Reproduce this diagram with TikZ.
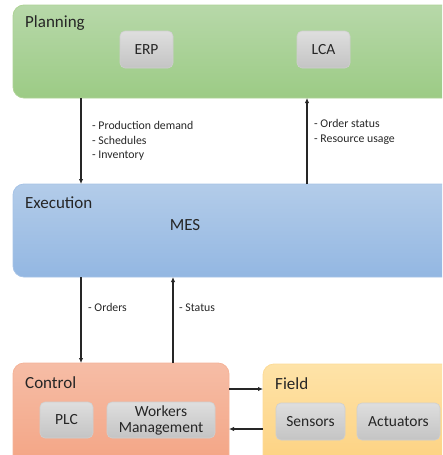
\documentclass[tikz,border=0pt]{standalone}
\usepackage{fontspec}
\setmainfont{Carlito}
\usetikzlibrary{arrows.meta}
\definecolor{txt}{HTML}{262626}
\definecolor{planT}{HTML}{B7D8A9}
\definecolor{planB}{HTML}{9CCB85}
\definecolor{planE}{HTML}{AED396}
\definecolor{execT}{HTML}{B3CCE9}
\definecolor{execB}{HTML}{93B7E2}
\definecolor{execE}{HTML}{A6C3E6}
\definecolor{ctrlT}{HTML}{F6BDA6}
\definecolor{ctrlB}{HTML}{F3A281}
\definecolor{ctrlE}{HTML}{F5B398}
\definecolor{fldT}{HTML}{FEE3A8}
\definecolor{fldB}{HTML}{FDD07D}
\definecolor{fldE}{HTML}{FDDB97}
\definecolor{boxT}{HTML}{DEDEDE}
\definecolor{boxB}{HTML}{C4C4C4}
\definecolor{boxE}{HTML}{CFCFCF}
\tikzset{
  layer/.style={rounded corners=11pt, line width=0.8pt},
  title/.style={anchor=west, font=\fontsize{17}{19}\selectfont, text=txt, inner sep=0pt},
  unit/.style={rounded corners=5pt, draw=boxE, line width=0.6pt,
    top color=boxT, bottom color=boxB, font=\fontsize{15.5}{18}\selectfont,
    text=txt, align=center, inner sep=0pt},
  flow/.style={draw=txt, line width=1.3pt, -{Latex[length=5pt,width=4.5pt]}},
  note/.style={anchor=north west, font=\fontsize{11.8}{14.5}\selectfont,
    text=txt, align=left, inner sep=0pt},
}
\begin{document}
\begin{tikzpicture}[x=1pt, y=-1pt]
\useasboundingbox (0,0) rectangle (442,455);
\clip (0,0) rectangle (442,455);

% layers
\path[layer, draw=planE, top color=planT, bottom color=planB] (13,5) rectangle (460,98);
\path[layer, draw=execE, top color=execT, bottom color=execB] (13,184) rectangle (460,277);
\path[layer, draw=ctrlE, top color=ctrlT, bottom color=ctrlB] (13,363) rectangle (229,475);
\path[layer, draw=fldE, top color=fldT, bottom color=fldB] (263,364) rectangle (460,475);

% layer anchors for connectors
\coordinate (planA) at (81,98);
\coordinate (planB) at (307,98);
\coordinate (execA) at (81,184);
\coordinate (execB) at (307,184);
\coordinate (execC) at (81,277);
\coordinate (execD) at (173,277);
\coordinate (ctrlA) at (81,363);
\coordinate (ctrlB) at (173,363);
\coordinate (ctrlR1) at (229,389);
\coordinate (ctrlR2) at (229,429);
\coordinate (fldL1) at (263,389);
\coordinate (fldL2) at (263,429);

% titles
\node[title] (tplan) at (25,23) {Planning};
\node[title] (texec) at (25,203) {Execution};
\node[title] (tctrl) at (25,383) {Control};
\node[title] (tfld) at (275,384) {Field};
\node[font=\fontsize{17}{19}\selectfont, text=txt, inner sep=0pt] (mes) at (185,225) {MES};

% systems
\node[unit, minimum width=53pt, minimum height=37pt] (erp) at (146.5,49.5) {ERP};
\node[unit, minimum width=53pt, minimum height=37pt] (lca) at (323.5,49.5) {LCA};
\node[unit, minimum width=53pt, minimum height=36pt] (plc) at (66.5,420) {PLC};
\node[unit, minimum width=108pt, minimum height=36pt] (wm) at (161,420) {Workers\\[-2pt]Management};
\node[unit, minimum width=69pt, minimum height=37pt] (sen) at (310.5,421.5) {Sensors};
\node[unit, minimum width=83pt, minimum height=37pt] (act) at (398.5,421.5) {Actuators};

% connectors
\draw[flow] (planA) -- (execA);
\draw[flow] (execB) -- (planB);
\draw[flow] (execC) -- (ctrlA);
\draw[flow] (ctrlB) -- (execD);
\draw[flow] (ctrlR1) -- (fldL1);
\draw[flow] (fldL2) -- (ctrlR2);

% connector labels
\node[note] (ndown) at (92,121.5) {- Production demand\\- Schedules\\- Inventory};
\node[note] (nup) at (314,119.5) {- Order status\\- Resource usage};
\node[note] (nord) at (88,303.5) {- Orders};
\node[note] (nstat) at (179,303.5) {- Status};
\end{tikzpicture}
\end{document}
